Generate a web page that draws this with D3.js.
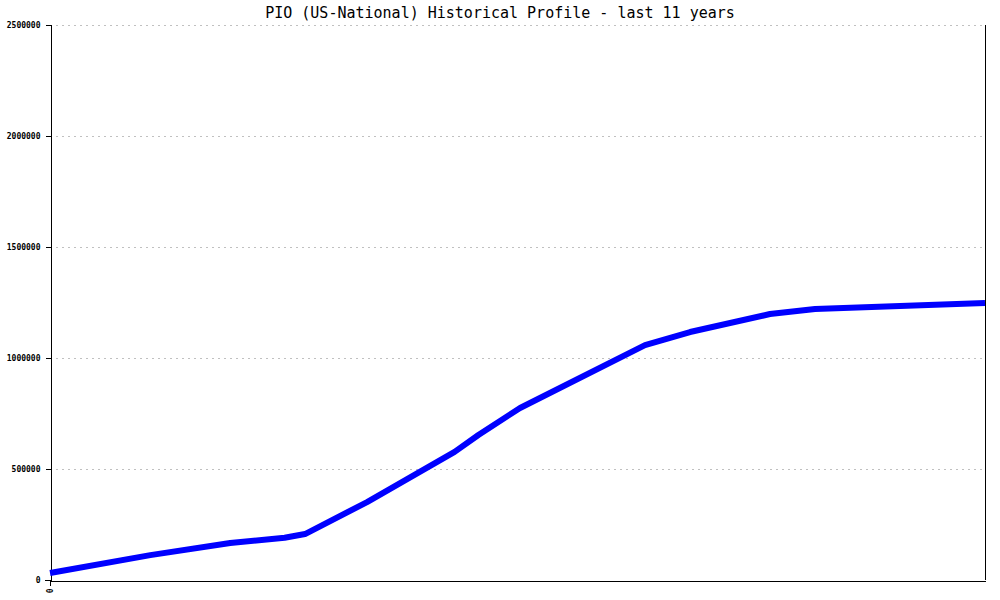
<!DOCTYPE html>
<html>
<head>
<meta charset="utf-8">
<script src="https://cdn.jsdelivr.net/npm/d3@7"></script>
<style>
  html, body { margin: 0; padding: 0; background: #fff; }
  svg { display: block; }
</style>
</head>
<body>
<svg id="chart" width="1000" height="600"></svg>
<script>
// Data (years since start of the 11-year window, subscriber counts)
const years  = [0, 1.18, 2.12, 2.76, 3.0, 3.73, 4.76, 5.04, 5.53, 7.0, 7.53, 8.47, 9.0, 10.0, 11.0];
const values = [31500, 112000, 167000, 190000, 207000, 351000, 577000, 653000, 775000, 1058000, 1117000, 1198000, 1221000, 1234000, 1248000];
const yTicks = [0, 500000, 1000000, 1500000, 2000000, 2500000];
const xTicks = [0];
const title = "PIO (US-National) Historical Profile - last 11 years";

const W = 1000, H = 600;
const m = { left: 50, right: 15, top: 25, bottom: 20 };
const svg = d3.select("#chart");

const x = d3.scaleLinear().domain([0, 11]).range([m.left, W - m.right]);
const y = d3.scaleLinear().domain([0, 2500000]).range([H - m.bottom, m.top]);

// grid
svg.append("g").selectAll("line").data(yTicks.filter(d => d > 0)).join("line")
  .attr("x1", m.left).attr("x2", W - m.right)
  .attr("y1", d => Math.round(y(d)) + 0.5).attr("y2", d => Math.round(y(d)) + 0.5)
  .attr("stroke", "#c0c0c0").attr("stroke-width", 1).attr("stroke-dasharray", "2,4")
  .attr("shape-rendering", "crispEdges");

// left axis
const yAxis = d3.axisLeft(y).tickValues(yTicks).tickSize(5).tickPadding(5).tickFormat(d3.format("d"));
const gy = svg.append("g").attr("transform", `translate(${m.left + 0.5},0)`).call(yAxis);
gy.select(".domain").attr("stroke", "#000").attr("shape-rendering", "crispEdges");
gy.selectAll(".tick line").attr("stroke", "#000").attr("shape-rendering", "crispEdges");
gy.selectAll(".tick text").attr("font-family", "DejaVu Sans Mono, monospace")
  .attr("font-size", 8).attr("font-weight", "bold").attr("fill", "#000");

// bottom axis
const xAxis = d3.axisBottom(x).tickValues(xTicks).tickSize(5).tickSizeOuter(0).tickFormat(d3.format("d"));
const gx = svg.append("g").attr("transform", `translate(0,${H - m.bottom + 0.5})`).call(xAxis);
gx.select(".domain").attr("stroke", "#000").attr("shape-rendering", "crispEdges");
gx.selectAll(".tick line").attr("stroke", "#000").attr("shape-rendering", "crispEdges");
gx.selectAll(".tick text")
  .attr("font-family", "DejaVu Sans Mono, monospace").attr("font-size", 8).attr("font-weight", "bold").attr("fill", "#000")
  .attr("text-anchor", "end").attr("dy", "0.35em")
  .attr("transform", "rotate(-90)").attr("x", -8).attr("y", 0);
// extend bottom line slightly left
svg.append("line").attr("x1", m.left - 5).attr("x2", m.left)
  .attr("y1", H - m.bottom + 0.5).attr("y2", H - m.bottom + 0.5)
  .attr("stroke", "#000").attr("shape-rendering", "crispEdges");

// right border
svg.append("line").attr("x1", W - m.right + 0.5).attr("x2", W - m.right + 0.5)
  .attr("y1", m.top).attr("y2", H - m.bottom)
  .attr("stroke", "#000").attr("shape-rendering", "crispEdges");

// series line
const data = years.map((t, i) => ({ t, v: values[i] }));
svg.append("path").datum(data)
  .attr("fill", "none").attr("stroke", "#0000ff").attr("stroke-width", 6)
  .attr("stroke-linejoin", "round")
  .attr("d", d3.line().x(d => x(d.t)).y(d => y(d.v)));

// title
svg.append("text").attr("x", 500).attr("y", 18).attr("text-anchor", "middle")
  .attr("font-family", "DejaVu Sans Mono, monospace").attr("font-size", 15)
  .attr("fill", "#000").text(title);
</script>
</body>
</html>
